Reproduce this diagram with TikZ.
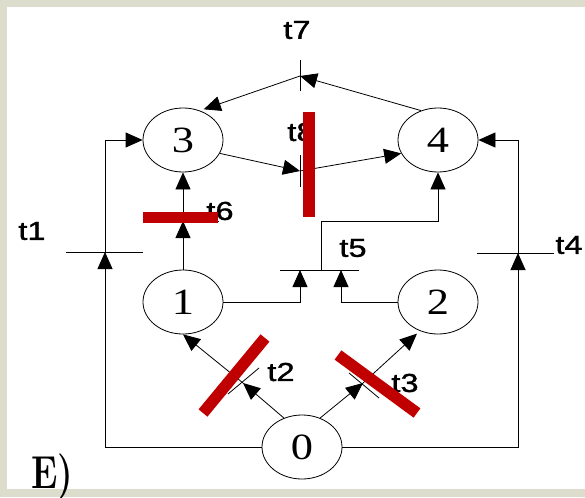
\documentclass[tikz,border=0pt]{standalone}
\usepackage{fontspec}
\usepackage{graphicx}
\usetikzlibrary{shapes.geometric,arrows.meta}
\newfontfamily\sansf[FakeBold=1.2]{Liberation Sans}
\newfontfamily\serf{Liberation Serif}
\definecolor{bggrey}{RGB}{220,221,204}
\definecolor{barred}{RGB}{192,0,0}
\newcommand\tlabtext[1]{\scalebox{1.25}[1]{#1}}
\newcommand\pltext[1]{\scalebox{1.2}[1]{#1}}
\tikzset{
  place/.style={draw, ellipse, line width=0.8pt, minimum width=80pt, minimum height=64pt, inner sep=0pt,
                font=\serf\fontsize{37}{37}\selectfont},
  tlab/.style={inner sep=0pt, font=\sansf\fontsize{26}{26}\selectfont},
  arc/.style={draw, line width=0.8pt, -{Triangle[length=17pt,width=15pt]}},
  tbar/.style={draw, line width=0.8pt},
  redbar/.style={draw=barred, line width=11.5pt, line cap=butt}
}
\begin{document}
\begin{tikzpicture}[x=1pt,y=-1pt]
\useasboundingbox (0,0) rectangle (585,497);
\fill[bggrey] (0,0) rectangle (585,497);
\fill[white] (7,7) rectangle (585,489);

% places
\node[place] (p3) at (183,140) {\pltext{3}};
\node[place] (p4) at (438,140) {\pltext{4}};
\node[place] (p1) at (183,302) {\pltext{1}};
\node[place] (p2) at (438,302) {\pltext{2}};
\node[place] (p0) at (302,447) {\pltext{0}};

% transitions
\coordinate (t1) at (105,252);
\coordinate (t4) at (518,253);
\coordinate (t5) at (321,270);
\coordinate (t5a) at (300,270);
\coordinate (t5b) at (341,270);
\coordinate (t5k) at (321,221);
\coordinate (t6) at (183,221);
\coordinate (t7) at (300,76);
\coordinate (t8) at (300,171);
\coordinate (t2) at (243,383);
\coordinate (t3) at (363,383);

% transition bars
\draw[tbar] ([shift={(-39,0)}]t1) -- ([shift={(38,0)}]t1);
\draw[tbar] ([shift={(-41,0)}]t4) -- ([shift={(36,0)}]t4);
\draw[tbar] ([shift={(-41,0)}]t5) -- ([shift={(38,0)}]t5);
\draw[tbar] ([shift={(-38,0)}]t6) -- ([shift={(36,0)}]t6);
\draw[tbar] ([shift={(0,-16)}]t7) -- ([shift={(0,15)}]t7);
\draw[tbar] ([shift={(0,-16)}]t8) -- ([shift={(0,16)}]t8);
\draw[tbar] ([shift={(-15,11)}]t2) -- ([shift={(16,-15)}]t2);
\draw[tbar] ([shift={(-14,-10)}]t3) -- ([shift={(16,15)}]t3);

% connectors
\draw[arc] (p0.west) -| (t1);
\draw[arc] (t1) |- (p3.west);
\draw[arc] (p0.east) -| (t4);
\draw[arc] (t4) |- (p4.east);
\draw[arc] (p1.north) -- (t6);
\draw[arc] (t6) -- (p3.south);
\draw[arc] (p1.east) -| (t5a);
\draw[arc] (p2.west) -| (t5b);
\draw[arc] (t5) -- (t5k) -| (p4.south);
\draw[arc] (p4.120) -- (t7);
\draw[arc, shorten >=4pt] (t7) -- (p3.60);
\draw[arc] (p3.-20) -- (t8);
\draw[arc] (t8) -- (p4.200);
\draw[arc] (p0.122) -- (t2);
\draw[arc] (t2) -- (p1.south);
\draw[arc] (p0.58) -- (t3);
\draw[arc, shorten >=4pt] (t3) -- (p2.238);

% labels
\node[tlab] (l1) at (32,231) {\tlabtext{t1}};
\node[tlab] (l2) at (281,372) {\tlabtext{t2}};
\node[tlab] (l3) at (405,383) {\tlabtext{t3}};
\node[tlab] (l4) at (569,245) {\tlabtext{t4}};
\node[tlab] (l5) at (353,248) {\tlabtext{t5}};
\node[tlab] (l6) at (220,211) {\tlabtext{t6}};
\node[tlab] (l7) at (297,30) {\tlabtext{t7}};
\node[tlab] (l8) at (301,132) {\tlabtext{t8}};

% red strike bars
\draw[redbar] (143,217.5) -- (218,217.5);
\draw[redbar] (309,112) -- (309,217);
\draw[redbar] (203,413) -- (265,338);
\draw[redbar] (338,355) -- (417,413);

% caption
\node[anchor=base west, inner sep=0pt, font=\bfseries\fontsize{42}{42}\selectfont] (cap) at (31,488) {\scalebox{0.85}[1.1]{E)}};
\end{tikzpicture}
\end{document}
